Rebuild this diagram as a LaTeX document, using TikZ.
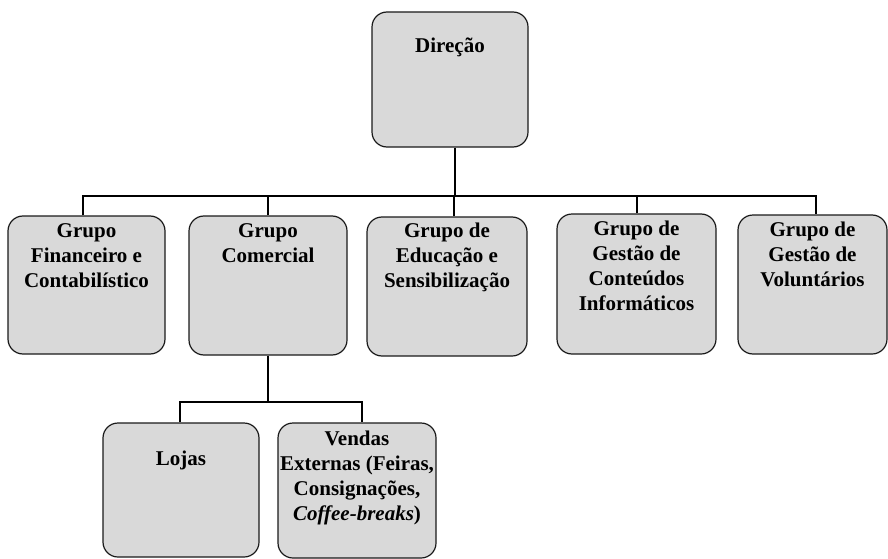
\documentclass[tikz,border=0pt]{standalone}
\usepackage{fontspec}
\setmainfont{Liberation Serif}
\definecolor{boxfill}{HTML}{D9D9D9}
\definecolor{boxline}{HTML}{1A1A1A}
\tikzset{
  orgbox/.style={draw=boxline, fill=boxfill, line width=1.2pt, rounded corners=15pt, inner sep=0pt},
  txt/.style={anchor=north, align=center, inner sep=0pt, font=\fontsize{21}{25}\selectfont\bfseries},
  conn/.style={draw=black, line width=1.8pt}
}
\begin{document}
\begin{tikzpicture}[x=1pt,y=-1pt]
\useasboundingbox (0,0) rectangle (888,559);
% boxes
\node[orgbox, minimum width=156pt, minimum height=135pt] (dir) at (450,79.5) {};
\node[orgbox, minimum width=157pt, minimum height=138pt] (b1) at (86.5,285) {};
\node[orgbox, minimum width=158pt, minimum height=139pt] (b2) at (268,285.5) {};
\node[orgbox, minimum width=160pt, minimum height=139pt] (b3) at (447,286.5) {};
\node[orgbox, minimum width=159pt, minimum height=140pt] (b4) at (636.5,284) {};
\node[orgbox, minimum width=149pt, minimum height=139pt] (b5) at (812.5,284.5) {};
\node[orgbox, minimum width=156pt, minimum height=134pt] (lojas) at (181,490) {};
\node[orgbox, minimum width=158pt, minimum height=135pt] (vendas) at (357,490.5) {};
% texts
\node[txt] (tdir) at ([yshift=-26pt]dir.north) {Direção};
\node[txt] (t1) at ([yshift=-8pt]b1.north) {Grupo\\Financeiro e\\Contabilístico};
\node[txt] (t2) at ([yshift=-8pt]b2.north) {Grupo\\Comercial};
\node[txt] (t3) at ([yshift=-6.5pt]b3.north) {Grupo de\\Educação e\\Sensibilização};
\node[txt] (t4) at ([yshift=-7.5pt]b4.north) {Grupo de\\Gestão de\\Conteúdos\\Informáticos};
\node[txt] (t5) at ([yshift=-7.5pt]b5.north) {Grupo de\\Gestão de\\Voluntários};
\node[txt] (tlojas) at ([yshift=-28pt]lojas.north) {Lojas};
\node[txt] (tvendas) at ([yshift=-8pt]vendas.north) {Vendas\\Externas (Feiras,\\Consignações,\\\textit{Coffee-breaks})};
% connectors
\coordinate (bus) at (450,196);
\coordinate (bus2) at (268,402);
\draw[conn] ([xshift=5pt]dir.south) -- ([xshift=5pt]dir.south |- bus);
\draw[conn] ([xshift=-3.5pt]b1.north) |- ([xshift=3.5pt]b5.north |- bus) -- ([xshift=3.5pt]b5.north);
\draw[conn] (b2.north) -- (b2.north |- bus);
\draw[conn] ([xshift=7pt]b3.north) -- ([xshift=7pt]b3.north |- bus);
\draw[conn] ([xshift=0.5pt]b4.north) -- ([xshift=0.5pt]b4.north |- bus);
\draw[conn] (b2.south) -- (b2.south |- bus2);
\draw[conn] ([xshift=-1pt]lojas.north) |- ([xshift=5pt]vendas.north |- bus2) -- ([xshift=5pt]vendas.north);
\end{tikzpicture}
\end{document}
